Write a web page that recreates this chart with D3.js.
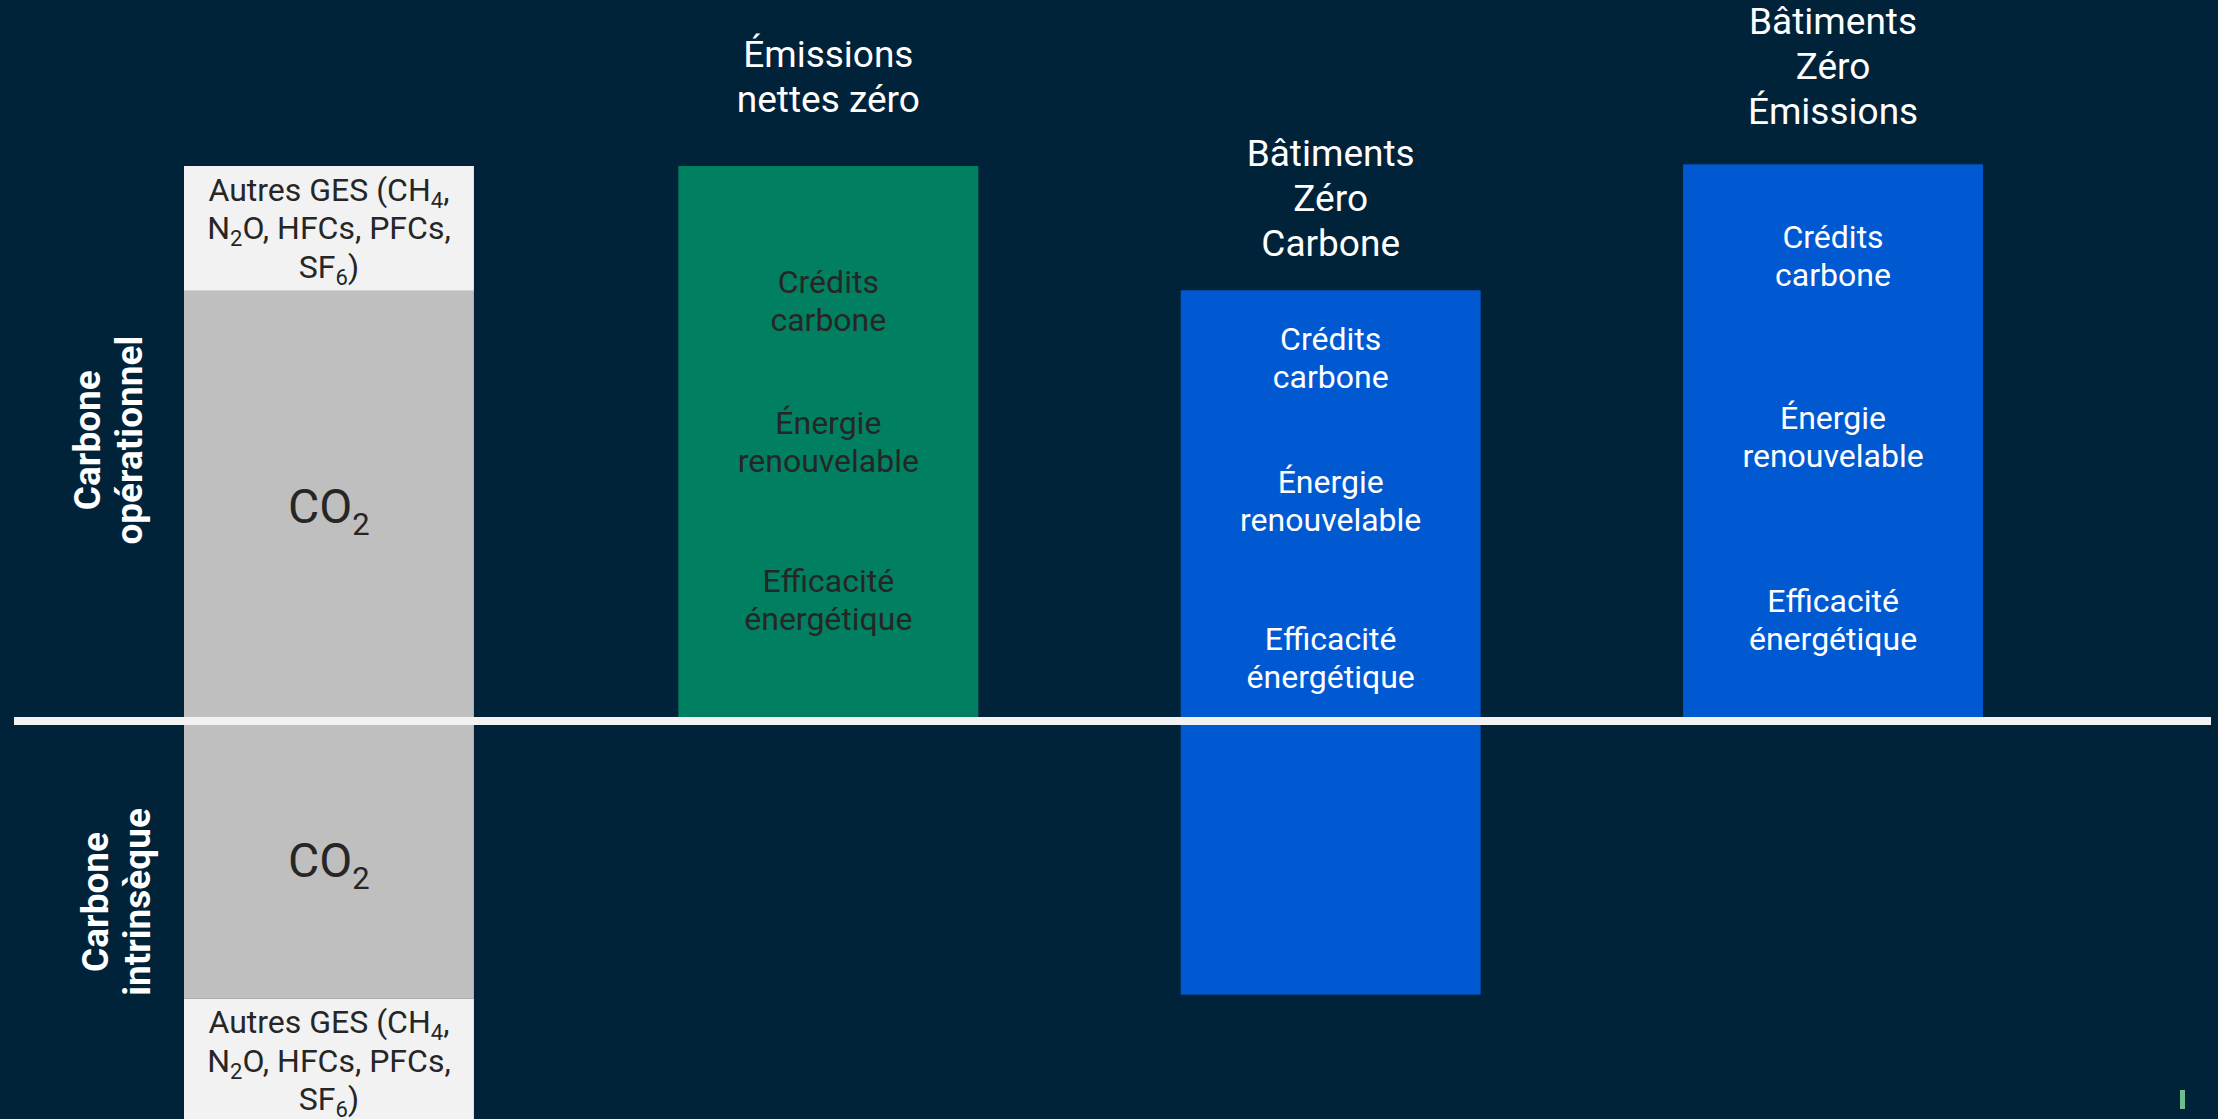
<!DOCTYPE html>
<html><head><meta charset="utf-8">
<script src="https://cdn.jsdelivr.net/npm/d3@7"></script>
<style>html,body{margin:0;padding:0;background:#00233a;overflow:hidden}svg{display:block}</style>
</head><body><svg id="chart"></svg>
<script>
// ---------- DATA ----------
const categories = ["Référence", "Émissions nettes zéro", "Bâtiments Zéro Carbone", "Bâtiments Zéro Émissions"];
// stacked segments of the reference bar
const refSegments = [
  {cat: "Référence", from: 77.5, to: 100, kind: "other"},
  {cat: "Référence", from: 0, to: 77.5, kind: "co2"},
  {cat: "Référence", from: -50, to: 0, kind: "co2"},
  {cat: "Référence", from: -72.5, to: -50, kind: "other"}
];
// strategy bars
const strategyBars = [
  {cat: "Émissions nettes zéro", from: 0, to: 100, kind: "green"},
  {cat: "Bâtiments Zéro Carbone", from: -49.3, to: 77.6, kind: "blue"},
  {cat: "Bâtiments Zéro Émissions", from: 0, to: 100.3, kind: "blue"}
];
const titles = [
  {cat: "Émissions nettes zéro", lines: ["Émissions", "nettes zéro"], level: 109.8},
  {cat: "Bâtiments Zéro Carbone", lines: ["Bâtiments", "Zéro", "Carbone"], level: 83.7},
  {cat: "Bâtiments Zéro Émissions", lines: ["Bâtiments", "Zéro", "Émissions"], level: 107.6}
];
const refLabels = [
  {cat: "Référence", lines: ["Autres GES (CH_4,", "N_2O, HFCs, PFCs,", "SF_6)"], level: 93.7, big: false},
  {cat: "Référence", lines: ["CO_2"], level: 35.6, big: true},
  {cat: "Référence", lines: ["CO_2"], level: -28.05, big: true},
  {cat: "Référence", lines: ["Autres GES (CH_4,", "N_2O, HFCs, PFCs,", "SF_6)"], level: -56.3, big: false}
];
const barLabels = [
  {cat: "Émissions nettes zéro", lines: ["Crédits", "carbone"], level: 77.1},
  {cat: "Émissions nettes zéro", lines: ["Énergie", "renouvelable"], level: 51.7},
  {cat: "Émissions nettes zéro", lines: ["Efficacité", "énergétique"], level: 23.3},
  {cat: "Bâtiments Zéro Carbone", lines: ["Crédits", "carbone"], level: 66.8},
  {cat: "Bâtiments Zéro Carbone", lines: ["Énergie", "renouvelable"], level: 41.1},
  {cat: "Bâtiments Zéro Carbone", lines: ["Efficacité", "énergétique"], level: 12.8},
  {cat: "Bâtiments Zéro Émissions", lines: ["Crédits", "carbone"], level: 85.2},
  {cat: "Bâtiments Zéro Émissions", lines: ["Énergie", "renouvelable"], level: 52.6},
  {cat: "Bâtiments Zéro Émissions", lines: ["Efficacité", "énergétique"], level: 19.6}
];
const groupLabels = [
  {lines: ["Carbone", "opérationnel"], level: 50.6},
  {lines: ["Carbone", "intrinsèque"], level: -32.6}
];

// ---------- LAYOUT ----------
const W = 2218, H = 1119;
const colors = {bg: "#00233a", other: "#f2f2f2", co2: "#bfbfbf", green: "#008060", blue: "#0059d1", line: "#f2f2f2", dark: "#262626", light: "#ffffff"};
const font = "Roboto, 'Noto Sans', sans-serif";

const svg = d3.select("#chart").attr("width", W).attr("height", H);
svg.append("rect").attr("width", W).attr("height", H).attr("fill", colors.bg);

const x = d3.scaleBand().domain(categories).range([176, 1983]).paddingInner(0.403).paddingOuter(0);
const y = d3.scaleLinear().domain([0, 100]).range([721, 166]);
const refInset = 5; // reference bar is slightly narrower

// bars
svg.append("g").selectAll("rect").data(refSegments).join("rect")
  .attr("x", d => x(d.cat) + refInset + 3)
  .attr("width", x.bandwidth() - 2 * refInset)
  .attr("y", d => y(d.to))
  .attr("height", d => y(d.from) - y(d.to))
  .attr("fill", d => colors[d.kind]);
svg.append("g").selectAll("rect").data(strategyBars).join("rect")
  .attr("x", d => x(d.cat))
  .attr("width", x.bandwidth())
  .attr("y", d => y(d.to))
  .attr("height", d => y(d.from) - y(d.to))
  .attr("fill", d => colors[d.kind]);

// rich text helper: "_X" => subscript X
function rich(textSel, str, size, subSize, shift) {
  const parts = [];
  let i = 0, buf = "";
  while (i < str.length) {
    if (str[i] === "_" && i + 1 < str.length) {
      if (buf) parts.push({t: buf, sub: false});
      buf = "";
      parts.push({t: str[i + 1], sub: true});
      i += 2;
    } else { buf += str[i]; i++; }
  }
  if (buf) parts.push({t: buf, sub: false});
  let down = false;
  parts.forEach(p => {
    const ts = textSel.append("tspan").text(p.t);
    if (p.sub) { ts.attr("font-size", subSize).attr("dy", shift); down = true; }
    else if (down) { ts.attr("dy", -shift); down = false; }
  });
}

// reference bar labels
const refG = svg.append("g").attr("font-family", font).attr("fill", colors.dark).attr("text-anchor", "middle");
refLabels.forEach(l => {
  const size = l.big ? 48 : 32, sub = l.big ? 31 : 22, shift = l.big ? 12 : 7, lh = 38.5;
  l.lines.forEach((line, i) => {
    const t = refG.append("text")
      .attr("x", x(l.cat) + x.bandwidth() / 2 + 3)
      .attr("y", y(l.level) + i * lh)
      .attr("font-size", size);
    rich(t, line, size, sub, shift);
  });
});

// strategy bar labels
const lblG = svg.append("g").attr("font-family", font).attr("text-anchor", "middle").attr("font-size", 32);
barLabels.forEach(l => {
  const kind = strategyBars.find(b => b.cat === l.cat).kind;
  l.lines.forEach((line, i) => {
    lblG.append("text")
      .attr("x", x(l.cat) + x.bandwidth() / 2)
      .attr("y", y(l.level) + i * 38)
      .attr("fill", kind === "green" ? colors.dark : colors.light)
      .text(line);
  });
});

// titles
const tG = svg.append("g").attr("font-family", font).attr("text-anchor", "middle").attr("font-size", 37).attr("fill", colors.light);
titles.forEach(t => {
  const n = t.lines.length;
  t.lines.forEach((line, i) => {
    tG.append("text")
      .attr("x", x(t.cat) + x.bandwidth() / 2)
      .attr("y", y(t.level) - (n - 1 - i) * 45)
      .text(line);
  });
});

// zero line
svg.append("line")
  .attr("x1", 14).attr("x2", 2211)
  .attr("y1", y(0)).attr("y2", y(0))
  .attr("stroke", colors.line).attr("stroke-width", 8);

// rotated group labels
const gG = svg.append("g").attr("font-family", font).attr("font-weight", "bold").attr("font-size", 37).attr("fill", colors.light).attr("text-anchor", "middle");
groupLabels.forEach((g, gi) => {
  const baseX = x(categories[0]) - (gi === 0 ? 76 : 68);
  g.lines.forEach((line, i) => {
    const bx = baseX + i * 41.5;
    gG.append("text")
      .attr("transform", `translate(${bx},${y(g.level)}) rotate(-90)`)
      .text(line);
  });
});

// small page marker at bottom right
svg.append("rect").attr("x", W - 38).attr("y", H - 29).attr("width", 5).attr("height", 19).attr("fill", "#6dbe8c");
</script>
</body></html>
